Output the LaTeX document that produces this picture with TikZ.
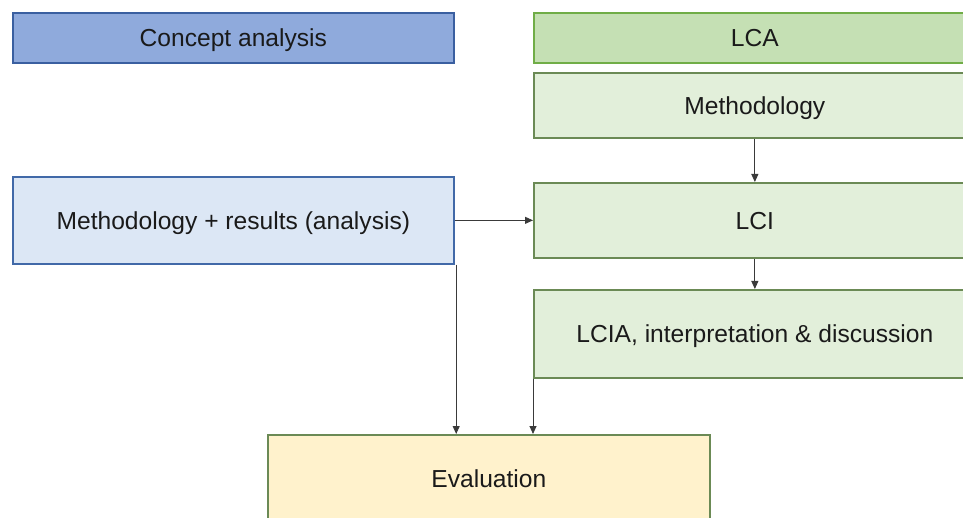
\documentclass[tikz,border=0pt]{standalone}
\usepackage{fontspec}
\setmainfont{Liberation Sans}
\usetikzlibrary{arrows.meta,calc}

\definecolor{conceptfill}{HTML}{8FAADC}
\definecolor{conceptline}{HTML}{3A5FA0}
\definecolor{bluefill}{HTML}{DCE7F5}
\definecolor{blueline}{HTML}{4169A8}
\definecolor{lcafill}{HTML}{C5E0B4}
\definecolor{lcaline}{HTML}{70AD47}
\definecolor{stepfill}{HTML}{E2EFDA}
\definecolor{stepline}{HTML}{6B8A55}
\definecolor{evalfill}{HTML}{FFF2CC}
\definecolor{txt}{HTML}{1A1A1A}
\definecolor{conn}{HTML}{3A3A3A}

\tikzset{
  box/.style={rectangle, anchor=north west, inner sep=0pt, line width=1.7pt,
    text=txt, font=\fontsize{24.6}{28}\selectfont,
    text height=17.7pt, text depth=0pt},
  headblue/.style={box, draw=conceptline, fill=conceptfill},
  lightblue/.style={box, draw=blueline, fill=bluefill},
  headgreen/.style={box, draw=lcaline, fill=lcafill},
  greenbox/.style={box, draw=stepline, fill=stepfill},
  evalbox/.style={box, draw=stepline, fill=evalfill},
  link/.style={draw=conn, line width=0.9pt, -{Triangle[length=8pt,width=7pt]}}
}

\begin{document}
\begin{tikzpicture}[x=1pt,y=-1pt]
  \useasboundingbox (0,0) rectangle (963,518);
  \clip (0,0) rectangle (963,518);
  \fill[white] (0,0) rectangle (963,518);

  % left column
  \node[headblue, minimum width=441pt, minimum height=50pt] (concept) at (12,12) {Concept analysis};
  \node[lightblue, minimum width=441pt, minimum height=87pt] (mr) at (12,176) {Methodology + results (analysis)};

  % LCA column (runs off the right edge)
  \node[headgreen, minimum width=442pt, minimum height=50pt] (lca) at (533,12) {LCA};
  \node[greenbox, minimum width=442pt, minimum height=65pt] (meth) at (533,72) {Methodology};
  \node[greenbox, minimum width=442pt, minimum height=75pt] (lci) at (533,182) {LCI};
  \node[greenbox, minimum width=442pt, minimum height=88pt] (lcia) at (533,289) {LCIA, interpretation \& discussion};

  % evaluation (runs off the bottom edge)
  \node[evalbox, minimum width=442pt, minimum height=88pt] (eval) at (267,434) {Evaluation};

  % start points of the two drops into the evaluation box
  \coordinate (mrdrop) at ($(mr.south east)+(1.5,0)$);
  \coordinate (mrhit) at (mrdrop |- eval.north);
  \coordinate (lciahit) at (lcia.south west |- eval.north);

  % connectors
  \draw[link] (meth.south) -- (lci.north);
  \draw[link] (lci.south) -- (lcia.north);
  \draw[link] (mr.east) -- (lci.west);
  \draw[link] (mrdrop) -- (mrhit);
  \draw[link] (lcia.south west) -- (lciahit);
\end{tikzpicture}
\end{document}
